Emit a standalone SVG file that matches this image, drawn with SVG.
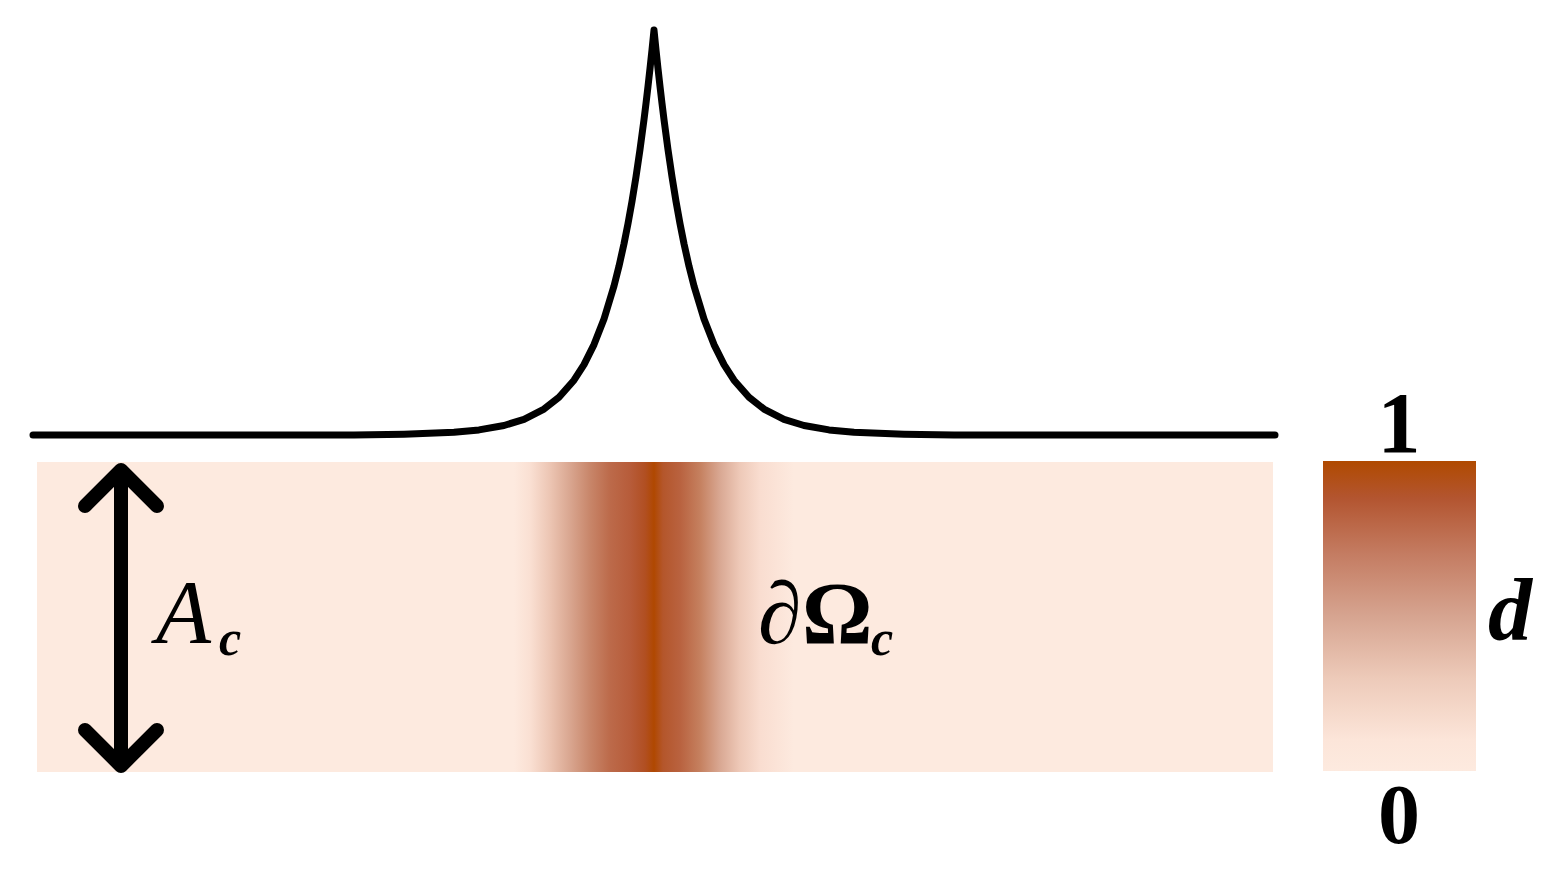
<svg xmlns="http://www.w3.org/2000/svg" width="1558" height="893" viewBox="0 0 1558 893">
<style>
text{font-family:'Liberation Serif','Times New Roman',Times,serif;fill:#000}
.it{font-style:italic}
.bd{font-weight:bold}
.crv{fill:none;stroke:#000;stroke-linecap:round;stroke-linejoin:round}
</style>
<defs>
<linearGradient id="band" gradientUnits="userSpaceOnUse" x1="514" y1="0" x2="794" y2="0">
<stop offset="0" stop-color="#FDEADF"/>
<stop offset="0.057" stop-color="#FAE0D3"/>
<stop offset="0.129" stop-color="#ECC5B3"/>
<stop offset="0.2" stop-color="#D9A690"/>
<stop offset="0.271" stop-color="#C8866A"/>
<stop offset="0.343" stop-color="#BC6A4A"/>
<stop offset="0.414" stop-color="#B75C3A"/>
<stop offset="0.468" stop-color="#B14F22"/>
<stop offset="0.5" stop-color="#B04800"/>
<stop offset="0.532" stop-color="#B4562B"/>
<stop offset="0.593" stop-color="#B9623F"/>
<stop offset="0.664" stop-color="#C5805F"/>
<stop offset="0.736" stop-color="#D9A893"/>
<stop offset="0.807" stop-color="#EEC9B8"/>
<stop offset="0.879" stop-color="#F9DDD0"/>
<stop offset="1" stop-color="#FDEADF"/>
</linearGradient>
<linearGradient id="cbar" x1="0" y1="0" x2="0" y2="1">
<stop offset="0" stop-color="#B04A00"/>
<stop offset="0.12" stop-color="#B35530"/>
<stop offset="0.3" stop-color="#C47C62"/>
<stop offset="0.5" stop-color="#D6A490"/>
<stop offset="0.7" stop-color="#EDCAB9"/>
<stop offset="0.9" stop-color="#FCE5D9"/>
<stop offset="1" stop-color="#FDEADF"/>
</linearGradient>
</defs>
<rect width="1558" height="893" fill="#fff"/>
<g id="domain">
<rect x="37" y="462" width="1236" height="310" fill="#FDEADF"/>
<rect x="514" y="462" width="280" height="310" fill="url(#band)"/>
</g>
<g id="profile">
<path class="crv" stroke-width="7" d="M33,435 L354,435 L404,434.2 L454,432.3 L479,429.9 L504,425.5 L524,419.3 L544,409.1 L559,397.3 L574,380.2 L584,364.6 L594,344.6 L604,319 L614,286 L619,266.2 L624,243.7 L628,223.6 L632,201.4 L636,176.8 L640,149.6 L644,119.6 L646,103.4 L648,86.4 L650,68.5 L652,49.8 L654,30 L656,49.8 L658,68.5 L660,86.4 L662,103.4 L664,119.6 L668,149.6 L672,176.8 L676,201.4 L680,223.6 L684,243.7 L689,266.2 L694,286 L704,319 L714,344.6 L724,364.6 L734,380.2 L749,397.3 L764,409.1 L784,419.3 L804,425.5 L829,429.9 L854,432.3 L904,434.2 L954,435 L1275,435"/>
</g>
<g id="arrow">
<path class="crv" stroke-width="14" d="M121,471 L121,765 M85,506 L121,470 L157,506 M85,730 L121,766 L157,730"/>
</g>
<g id="labels">
<text class="it" x="156" y="643" font-size="90">A</text>
<text class="it bd" x="219" y="655" font-size="50">c</text>
<text class="it" x="758" y="643" font-size="88">∂</text>
<text class="bd" x="802" y="643" font-size="88">Ω</text>
<text class="it bd" x="871" y="655" font-size="50">c</text>
</g>
<g id="colorbar">
<rect x="1323" y="461" width="153" height="310" fill="url(#cbar)"/>
<text class="bd" x="1399" y="452" font-size="86" text-anchor="middle">1</text>
<text class="bd" x="1399" y="843" font-size="84" text-anchor="middle">0</text>
<text class="it bd" x="1488" y="640" font-size="88">d</text>
</g>
</svg>
